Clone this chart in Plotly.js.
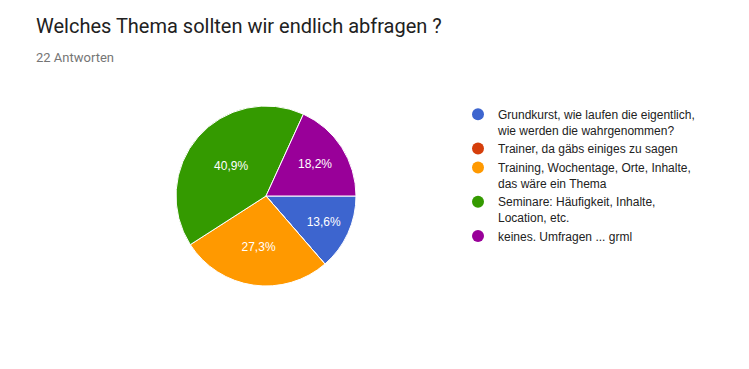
<!DOCTYPE html>
<html><head><meta charset="utf-8">
<script src="https://cdn.plot.ly/plotly-3.0.1.min.js"></script>
<style>html,body{margin:0;padding:0;background:#fff}#chart{width:749px;height:369px}</style>
</head><body><div id="chart"></div>
<script>
const titleText = 'Welches Thema sollten wir endlich abfragen ?';
const subtitleText = '22 Antworten';
const categories = [
  'Grundkurst, wie laufen die eigentlich,<br>wie werden die wahrgenommen?',
  'Trainer, da gäbs einiges zu sagen',
  'Training, Wochentage, Orte, Inhalte,<br>das wäre ein Thema',
  'Seminare: Häufigkeit, Inhalte,<br>Location, etc.',
  'keines. Umfragen ... grml'
];
const counts = [3, 0, 6, 9, 4];
const colors = ['#3d65cf', '#d53e0b', '#ff9900', '#349a00', '#990099'];

const W = 749, H = 369;
const cx = 266, cy = 196, r = 90;

const pie = {
  type: 'pie',
  values: counts,
  labels: categories,
  sort: false,
  direction: 'clockwise',
  rotation: 90,
  marker: {colors: colors, line: {color: '#ffffff', width: 1}},
  texttemplate: counts.map(v => v > 0 ? '%{percent:.1%}' : ''),
  textposition: 'inside',
  insidetextorientation: 'horizontal',
  insidetextfont: {family: 'Liberation Sans, Arial, sans-serif', size: 12, color: '#ffffff'},
  hoverinfo: 'label+value+percent',
  showlegend: false,
  domain: {x: [(cx - r) / W, (cx + r) / W], y: [1 - (cy + r) / H, 1 - (cy - r) / H]}
};

const legendTraces = categories.map((c, i) => ({
  type: 'scatter', mode: 'markers', x: [null], y: [null],
  name: c, marker: {symbol: 'circle', size: 12, color: colors[i]},
  showlegend: true, hoverinfo: 'skip'
}));

const layout = {
  width: W, height: H,
  margin: {l: 0, r: 0, t: 0, b: 0},
  paper_bgcolor: '#ffffff', plot_bgcolor: '#ffffff',
  separators: ',.',
  font: {family: 'Liberation Sans, Arial, sans-serif', size: 12, color: '#222222'},
  title: {
    text: titleText,
    font: {family: 'Roboto, sans-serif', size: 20, color: '#212121'},
    xref: 'container', yref: 'container',
    x: 36 / W, xanchor: 'left', y: 1 - 26 / H, yanchor: 'middle'
  },
  annotations: [{
    text: subtitleText, showarrow: false,
    xref: 'paper', yref: 'paper', x: 34 / W, xanchor: 'left',
    y: 1 - 57 / H, yanchor: 'middle',
    font: {family: 'Roboto, sans-serif', size: 13, color: '#757575'}
  }],
  xaxis: {visible: false}, yaxis: {visible: false},
  legend: {
    x: 458 / W, xanchor: 'left', y: 1 - 100 / H, yanchor: 'top',
    valign: 'top', traceorder: 'normal',
    font: {family: 'Liberation Sans, Arial, sans-serif', size: 12, color: '#222222'},
    bgcolor: 'rgba(0,0,0,0)', itemclick: false, itemdoubleclick: false
  },
  showlegend: true
};

Plotly.newPlot('chart', [pie, ...legendTraces], layout, {displayModeBar: false, staticPlot: true});
</script>
</body></html>
